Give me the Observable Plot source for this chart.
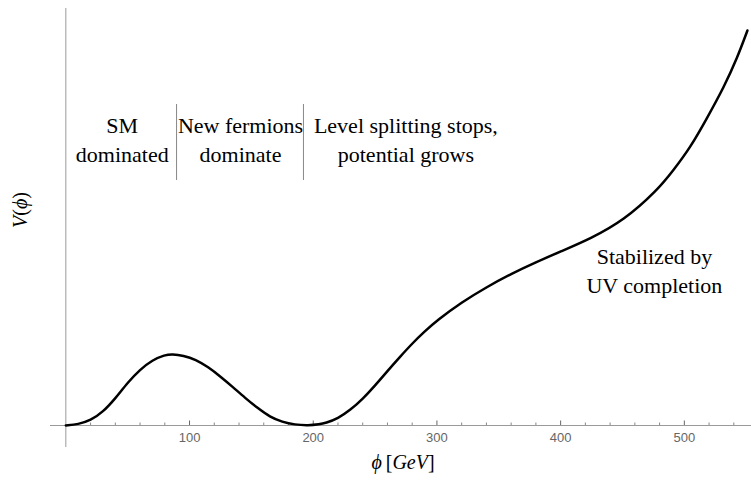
<!DOCTYPE html>
<html>
<head>
<meta charset="utf-8">
<script src="https://cdn.jsdelivr.net/npm/d3@7"></script>
<script src="https://cdn.jsdelivr.net/npm/@observablehq/plot@0.6"></script>
</head>
<body style="margin:0;padding:0;background:#fff">
<div id="chart"></div>
<script>
// Potential curve V(phi) (arbitrary units)
const phi = [0, 10, 20, 30, 40, 50, 60, 70, 80, 86, 95, 105, 115, 125, 135, 145, 155, 165, 175, 185, 196,
             205, 210, 220, 230, 240, 250, 260, 270, 280, 290, 300, 320, 340, 360, 380, 400, 424, 451, 478,
             491, 505, 518, 532, 543, 551];
const V   = [0, 0.012, 0.05, 0.135, 0.27, 0.43, 0.56, 0.655, 0.705, 0.715, 0.70, 0.66, 0.585, 0.49, 0.385, 0.275, 0.175, 0.085, 0.035, 0.008, 0,
             0.012, 0.025, 0.07, 0.155, 0.265, 0.40, 0.545, 0.685, 0.82, 0.94, 1.05, 1.233, 1.383, 1.517, 1.633, 1.74, 1.867, 2.05, 2.35,
             2.55, 2.783, 3.067, 3.383, 3.683, 3.95];

// Axis ticks
const majorTicks = [100, 200, 300, 400, 500];
const minorTicks = [20, 40, 60, 80, 120, 140, 160, 180, 220, 240, 260, 280, 320, 340, 360, 380, 420, 440, 460, 480, 520, 540];

// Region separators
const separatorX = [89.5, 192.1];
const separatorY1 = 2.45;
const separatorY2 = 3.21;

// Annotations
const annoText = ["SM\ndominated", "New fermions\ndominate", "Level splitting stops,\npotential grows", "Stabilized by\nUV completion"];
const annoX = [45.6, 141.2, 274.9, 475.8];
const annoY = [2.875, 2.875, 2.875, 1.565];

const xLabel = "ϕ [GeV]";
const yLabel = "V(ϕ)";

const curve = phi.map((p, i) => ({phi: p, V: V[i]}));
const annos = annoText.map((t, i) => ({text: t, x: annoX[i], y: annoY[i]}));

const serif = "Liberation Serif";
const sans = "Liberation Sans";

const plot = Plot.plot({
  width: 751,
  height: 482,
  marginLeft: 50,
  marginRight: 0,
  marginTop: 8,
  marginBottom: 35,
  x: {domain: [-12.4, 554.3], axis: null},
  y: {domain: [-0.22, 4.17], axis: null},
  marks: [
    Plot.ruleY([0], {stroke: "#9a9a9a", strokeWidth: 1}),
    Plot.ruleX([0], {stroke: "#9a9a9a", strokeWidth: 1}),
    Plot.ruleX(minorTicks, {x: d => d, y1: 0, y2: 0.025, stroke: "#888", strokeWidth: 1}),
    Plot.ruleX(majorTicks, {x: d => d, y1: 0, y2: 0.045, stroke: "#666", strokeWidth: 1}),
    Plot.text(majorTicks, {x: d => d, y: 0, dy: 12.5, text: d => String(d), fill: "#666", fontSize: 13, fontFamily: sans}),
    Plot.ruleX(separatorX, {x: d => d, y1: separatorY1, y2: separatorY2, stroke: "#888", strokeWidth: 1}),
    Plot.line(curve, {x: "phi", y: "V", curve: "basis", stroke: "#000", strokeWidth: 2.5}),
    Plot.text(annos, {x: "x", y: "y", text: "text", fontSize: 22, fontFamily: serif, fill: "#000", lineHeight: 1.34, textAnchor: "middle"}),
    Plot.text([xLabel], {frameAnchor: "bottom", dy: 21, dx: 2, text: d => d, fontSize: 20, fontFamily: serif, fill: "#000"}),
    Plot.text([yLabel], {frameAnchor: "left", dx: -30, rotate: -90, text: d => d, fontSize: 20, fontFamily: serif, fill: "#000"})
  ]
});

document.getElementById("chart").appendChild(plot);

// math-style italics for the axis labels
function styleLabel(content, parts) {
  d3.select(plot).selectAll("text").filter(function() { return this.textContent === content; })
    .each(function() {
      const t = d3.select(this);
      t.text(null);
      parts.forEach(([s, it]) => t.append("tspan").attr("font-style", it ? "italic" : "normal").text(s));
    });
}
styleLabel(xLabel, [["ϕ", true], ["\u2009[", false], ["GeV", true], ["]", false]]);
styleLabel(yLabel, [["V", true], ["(", false], ["ϕ", true], [")", false]]);

// enforce fonts inline: serif everywhere except the tick labels
const tickStrings = new Set(majorTicks.map(String));
d3.select(plot).selectAll("text").each(function() {
  const fam = tickStrings.has(this.textContent) ? sans : serif;
  d3.select(this).style("font-family", fam, "important");
  d3.select(this).selectAll("tspan").style("font-family", fam, "important");
});
</script>
</body>
</html>
